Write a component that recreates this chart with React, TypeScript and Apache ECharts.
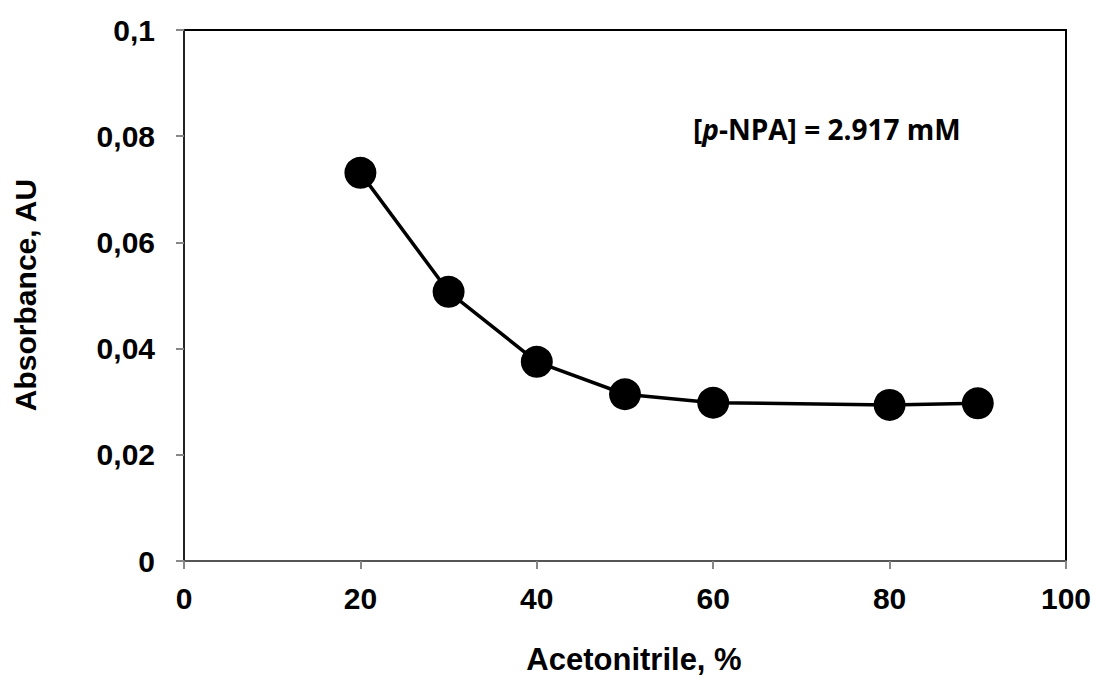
import React, { useEffect, useRef } from "react";
import * as echarts from "echarts";

const acetonitrile = [20, 30, 40, 50, 60, 80, 90];
const absorbance = [0.0731, 0.0507, 0.0375, 0.0314, 0.0298, 0.0294, 0.0297];
const xTitle = "Acetonitrile, %";
const yTitle = "Absorbance, AU";

export default function App() {
  const ref = useRef<HTMLDivElement>(null);
  useEffect(() => {
    if (!ref.current) return;
    const chart = echarts.init(ref.current, undefined, { renderer: "svg" });
    const labelFont = {
      fontFamily: "'Liberation Sans', Arial, sans-serif",
      fontWeight: "bold" as const,
      fontSize: 30,
      color: "#000",
    };
    chart.setOption({
      animation: false,
      backgroundColor: "#fff",
      grid: {
        left: 184,
        top: 30,
        right: 29,
        bottom: 114,
        show: true,
        borderColor: "#000",
        borderWidth: 2,
      },
      xAxis: {
        type: "value",
        min: 0,
        max: 100,
        interval: 20,
        splitLine: { show: false },
        axisLine: { show: true, onZero: false, lineStyle: { color: "#555", width: 2 } },
        axisTick: { show: true, inside: false, length: 8, lineStyle: { color: "#888", width: 2 } },
        axisLabel: { ...labelFont, margin: 22 },
      },
      yAxis: {
        type: "value",
        min: 0,
        max: 0.1,
        interval: 0.02,
        splitLine: { show: false },
        axisLine: { show: true, onZero: false, lineStyle: { color: "#222", width: 2 } },
        axisTick: { show: true, inside: false, length: 8, lineStyle: { color: "#888", width: 2 } },
        axisLabel: {
          ...labelFont,
          margin: 29,
          formatter: (v: number) => (v === 0 ? "0" : String(+v.toFixed(2)).replace(".", ",")),
        },
      },
      graphic: [
        {
          type: "text",
          x: 634,
          y: 659,
          style: {
            text: xTitle,
            ...labelFont,
            fontSize: 31,
            fill: "#000",
            align: "center",
            verticalAlign: "middle",
          },
        },
        {
          type: "text",
          x: 25,
          y: 295,
          rotation: Math.PI / 2,
          style: {
            text: yTitle,
            ...labelFont,
            fill: "#000",
            align: "center",
            verticalAlign: "middle",
          },
        },
        {
          type: "text",
          x: 693,
          y: 129,
          style: {
            text: "{a|[}{i|p}{a|-NPA] = 2.917 mM}",
            verticalAlign: "middle",
            align: "left",
            rich: {
              a: { fontFamily: "'Open Sans', sans-serif", fontWeight: "bold", fontSize: 28, fill: "#000" },
              i: { fontFamily: "'Open Sans', sans-serif", fontWeight: "bold", fontStyle: "italic", fontSize: 28, fill: "#000" },
            },
          },
        },
      ],
      series: [
        {
          type: "line",
          data: acetonitrile.map((x, i) => [x, absorbance[i]]),
          symbol: "circle",
          symbolSize: 32,
          lineStyle: { color: "#000", width: 3.5 },
          itemStyle: { color: "#000" },
        },
      ],
    });
    return () => chart.dispose();
  }, []);
  return <div ref={ref} style={{ width: 1095, height: 675, position: "absolute", left: 0, top: 0 }} />;
}
